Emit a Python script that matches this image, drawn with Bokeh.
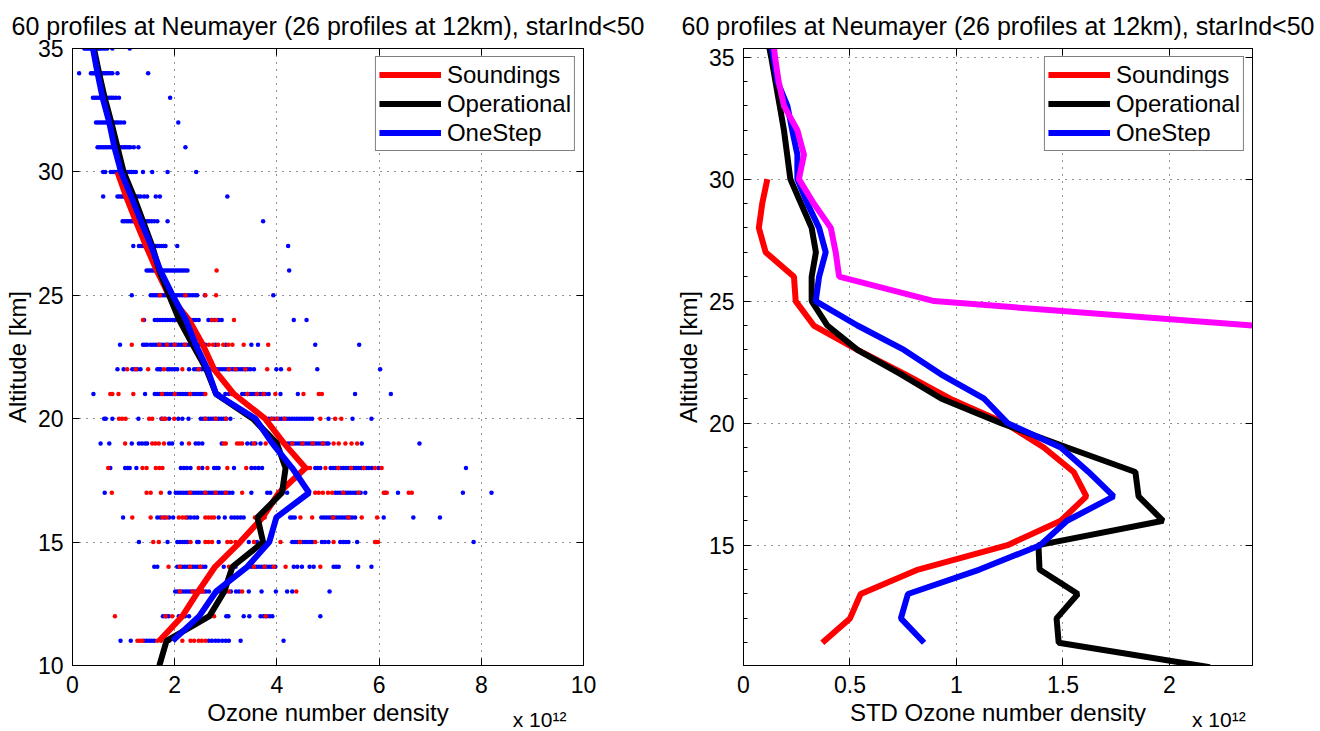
from bokeh.embed import file_html
from bokeh.layouts import row
from bokeh.models import CustomJSTickFormatter, FixedTicker, LinearAxis, Range1d
from bokeh.plotting import figure
from bokeh.resources import INLINE

FONT = "Liberation Sans"
TITLE = "60 profiles at Neumayer (26 profiles at 12km), starInd<50"
MULTIPLIER = "x 10\u00b9\u00b2"

RED, BLACK, BLUE, MAGENTA = "#ff0000", "#000000", "#0000ff", "#ff00ff"

# ---- mean ozone number density profiles (units of 1e12) ----
mean_alt_sondes = list(range(11, 31))
mean_sondes = [1.70, 2.15, 2.46, 2.79, 3.28, 3.72, 4.04, 4.56, 4.14, 3.77,
               3.16, 2.77, 2.55, 2.28, 1.89, 1.65, 1.44, 1.24, 1.05, 0.88]
mean_alt_oper = list(range(10, 36))
mean_oper = [1.70, 1.84, 2.68, 2.97, 3.13, 3.73, 3.62, 4.10, 4.17, 4.00,
             3.53, 2.81, 2.62, 2.35, 2.09, 1.89, 1.70, 1.56, 1.38, 1.20,
             1.00, 0.88, 0.76, 0.63, 0.52, 0.42]
mean_alt_onestep = list(range(11, 36))
mean_onestep = [1.96, 2.48, 2.81, 3.42, 3.85, 3.99, 4.63, 4.30, 3.91, 3.58,
                2.81, 2.64, 2.41, 2.22, 1.96, 1.72, 1.54, 1.34, 1.15, 0.95,
                0.82, 0.72, 0.59, 0.49, 0.40]

# ---- individual profile values per altitude level (units of 1e12) ----
dot_alts_onestep = list(range(11, 36))
dots_onestep = [
    [0.94, 1.14, 1.40, 1.45, 1.50, 1.55, 1.60, 1.89, 2.67, 2.73, 2.80, 2.86, 2.93, 3.00, 3.06, 3.29, 4.13],
    [1.77, 1.83, 1.88, 2.08, 2.14, 2.20, 2.28, 3.01, 3.05, 3.35, 3.46, 3.68, 3.74, 3.80, 3.86, 3.91, 4.85],
    [2.01, 2.06, 2.11, 2.16, 2.21, 2.26, 2.31, 2.36, 2.41, 2.46, 2.51, 2.56, 2.61, 2.67, 2.86, 2.92, 3.00,
     3.10, 3.20, 3.26, 3.45, 3.70, 3.98, 4.20, 4.30, 5.03],
    [1.60, 1.66, 2.05, 2.10, 2.15, 2.20, 2.25, 2.30, 2.35, 2.40, 2.45, 2.50, 2.55, 2.60, 2.96, 3.19, 3.45,
     3.50, 3.55, 3.60, 3.65, 3.70, 3.75, 3.80, 3.85, 3.90, 3.97, 4.33, 4.40, 4.49, 4.64, 4.72, 5.11, 5.16,
     5.21, 5.59, 5.85],
    [1.30, 1.86, 2.05, 2.10, 2.15, 2.20, 2.25, 2.44, 2.47, 2.86, 3.45, 3.61, 4.30, 4.35, 4.40, 4.45, 4.50,
     4.55, 4.60, 4.65, 4.69, 4.88, 4.94, 5.01, 5.24, 5.30, 5.35, 5.40, 5.57, 5.94, 7.85],
    [0.99, 1.66, 1.72, 1.80, 1.89, 1.97, 2.25, 2.31, 2.38, 2.44, 2.86, 2.98, 3.11, 3.17, 3.23, 3.29, 3.35,
     4.26, 4.30, 4.35, 4.87, 4.92, 4.97, 5.02, 5.07, 5.12, 5.17, 5.22, 5.27, 5.32, 5.37, 5.42, 5.47, 5.53,
     6.09, 6.67, 7.19],
    [0.63, 1.90, 2.02, 2.07, 2.12, 2.17, 2.22, 2.27, 2.32, 2.37, 2.42, 2.47, 2.52, 2.57, 2.62, 2.67, 2.72,
     2.77, 2.82, 2.87, 2.92, 2.97, 3.02, 3.07, 3.13, 3.50, 3.81, 3.87, 4.20, 5.14, 5.19, 5.24, 5.29, 5.34,
     5.39, 5.44, 5.49, 5.54, 5.59, 5.64, 5.73, 6.12, 6.37, 7.64, 8.20],
    [0.74, 1.03, 1.08, 1.12, 1.25, 2.12, 2.18, 2.24, 2.31, 2.54, 2.77, 2.82, 2.86, 3.16, 3.50, 3.57, 3.64,
     3.71, 4.59, 4.75, 4.80, 4.85, 5.05, 5.10, 5.15, 5.20, 5.25, 5.30, 5.35, 5.40, 5.45, 5.50, 5.55, 5.60,
     5.65, 5.70, 5.75, 5.80, 5.86, 5.99, 7.70],
    [0.55, 0.72, 1.16, 1.30, 1.36, 1.42, 1.46, 1.89, 1.95, 2.14, 2.41, 2.47, 2.54, 2.92, 3.42, 3.50, 3.58,
     3.68, 4.17, 4.22, 4.27, 4.32, 4.37, 4.42, 4.47, 4.52, 4.57, 4.62, 4.67, 4.72, 4.77, 4.82, 4.87, 4.92,
     4.97, 5.01, 5.66, 6.79],
    [0.62, 0.65, 0.78, 1.29, 1.74, 1.80, 1.89, 2.07, 2.15, 2.27, 2.51, 2.56, 2.61, 2.66, 2.71, 2.76, 2.81,
     2.86, 2.91, 2.96, 3.01, 3.09, 3.84, 3.89, 3.94, 3.99, 4.04, 4.09, 4.14, 4.19, 4.24, 4.29, 4.34, 4.39,
     4.44, 4.49, 4.54, 4.59, 4.64, 4.69, 5.01, 5.48, 5.85],
    [0.41, 1.42, 1.61, 1.66, 1.71, 1.76, 1.81, 1.86, 1.91, 1.96, 2.01, 2.06, 2.11, 2.16, 2.21, 2.26, 2.31,
     2.36, 2.41, 2.46, 2.51, 2.56, 2.86, 2.99, 3.06, 3.32, 3.37, 3.42, 3.47, 3.52, 3.57, 3.62, 3.67, 3.72,
     3.77, 3.84, 4.07, 4.41, 5.53, 6.23],
    [0.88, 1.00, 1.17, 1.22, 1.27, 1.33, 1.66, 1.70, 1.73, 1.86, 1.90, 1.95, 2.00, 2.05, 2.28, 2.38, 2.43,
     2.48, 2.53, 2.58, 2.63, 2.68, 2.73, 2.78, 2.83, 2.88, 2.93, 2.98, 3.03, 3.08, 3.13, 3.18, 3.23, 3.28,
     3.33, 3.38, 3.43, 3.48, 3.55, 3.99, 4.08, 4.79, 6.02],
    [0.93, 1.38, 1.42, 1.46, 1.53, 1.58, 1.63, 1.68, 1.73, 1.78, 1.83, 1.88, 1.93, 1.98, 2.03, 2.08, 2.13,
     2.18, 2.23, 2.28, 2.33, 2.38, 2.43, 2.48, 2.53, 2.60, 2.80, 3.00, 3.50, 3.63, 4.75, 5.61],
    [1.40, 1.61, 1.66, 1.71, 1.76, 1.81, 1.86, 1.91, 1.96, 2.01, 2.06, 2.11, 2.16, 2.21, 2.26, 2.31, 2.36,
     2.41, 2.47, 2.66, 2.72, 2.78, 2.86, 2.92, 4.33, 4.58],
    [1.16, 1.53, 1.57, 1.61, 1.65, 1.69, 1.73, 1.77, 1.81, 1.85, 1.89, 1.93, 1.97, 2.01, 2.05, 2.10, 2.15,
     2.20, 2.25, 2.30, 2.35, 2.40, 2.44, 2.59, 3.93],
    [1.45, 1.49, 1.53, 1.57, 1.61, 1.65, 1.69, 1.73, 1.77, 1.81, 1.85, 1.89, 1.93, 1.97, 2.01, 2.05, 2.09,
     2.13, 2.17, 2.21, 2.25, 4.24],
    [1.19, 1.30, 1.34, 1.38, 1.42, 1.46, 1.50, 1.54, 1.58, 1.62, 1.66, 1.70, 1.74, 1.78, 1.82, 2.05, 4.22],
    [0.98, 1.02, 1.06, 1.10, 1.14, 1.18, 1.22, 1.26, 1.30, 1.34, 1.38, 1.42, 1.46, 1.50, 1.55, 1.60, 1.66,
     1.86, 3.73],
    [0.60, 0.88, 0.92, 0.96, 1.00, 1.04, 1.08, 1.12, 1.16, 1.20, 1.24, 1.28, 1.33, 1.40, 1.46, 1.63, 1.71,
     3.03],
    [0.60, 0.64, 0.75, 0.79, 0.83, 0.87, 0.91, 0.95, 0.99, 1.03, 1.07, 1.11, 1.15, 1.19, 1.24, 1.38, 1.56,
     1.86, 2.42],
    [0.49, 0.53, 0.57, 0.61, 0.65, 0.69, 0.73, 0.77, 0.81, 0.85, 0.89, 0.93, 0.97, 1.01, 1.05, 1.09, 1.13,
     1.20, 1.29, 2.21],
    [0.46, 0.50, 0.54, 0.58, 0.62, 0.66, 0.70, 0.74, 0.78, 0.82, 0.86, 0.90, 0.95, 1.01, 2.07],
    [0.40, 0.44, 0.48, 0.52, 0.56, 0.60, 0.64, 0.68, 0.72, 0.76, 0.80, 0.85, 0.91, 1.91],
    [0.13, 0.36, 0.39, 0.42, 0.45, 0.48, 0.51, 0.54, 0.57, 0.60, 0.63, 0.66, 0.70, 0.74, 0.78, 0.88, 1.48],
    [0.23, 0.26, 0.29, 0.32, 0.35, 0.38, 0.41, 0.44, 0.47, 0.50, 0.53, 0.56, 0.60, 0.64, 0.68, 0.78, 1.12],
]
dot_alts_sondes = list(range(11, 27))
dots_sondes = [
    [1.27, 1.32, 1.37, 1.66, 1.73, 2.15, 2.31, 2.38, 2.47, 2.53, 2.60],
    [0.83, 1.82, 1.95, 2.77, 3.78],
    [2.10, 2.35, 2.55, 2.81, 3.06, 3.32, 4.38],
    [1.88, 2.10, 2.30, 2.50, 3.06, 3.55, 3.76, 3.94, 4.17, 4.85],
    [1.58, 1.69, 2.31, 2.60, 2.66, 2.73, 3.03, 3.10, 3.19, 3.55, 4.07, 4.45, 4.75, 5.11, 5.92, 5.98],
    [1.17, 1.53, 1.76, 1.84, 2.08, 2.15, 2.21, 2.60, 2.66, 2.72, 2.77, 3.57, 3.76, 4.46, 4.69, 5.10, 5.40,
     5.66, 5.96],
    [0.77, 1.45, 1.53, 1.73, 2.30, 2.60, 2.80, 3.00, 3.32, 4.04, 4.75, 4.82, 4.90, 5.00, 5.08, 5.30, 5.60,
     6.09, 6.15, 6.58, 6.64],
    [0.70, 1.37, 1.45, 1.63, 1.70, 1.76, 2.47, 2.64, 3.03, 3.40, 4.62, 4.65, 4.95, 5.20, 5.45, 5.70, 5.92,
     6.05],
    [1.03, 1.56, 1.62, 1.69, 1.79, 2.28, 2.96, 3.00, 3.22, 3.27, 3.32, 3.55, 3.78, 4.30, 4.50, 4.70, 4.90,
     5.11, 5.21, 5.34, 5.46, 5.57],
    [0.91, 0.97, 1.04, 1.50, 1.56, 1.76, 1.82, 1.99, 2.60, 2.80, 3.00, 3.90, 4.00, 4.15, 4.85, 5.14, 5.26],
    [0.74, 0.78, 0.90, 1.19, 1.75, 2.00, 2.30, 2.60, 3.11, 3.42, 3.61, 3.74, 3.97, 4.52, 4.82, 4.88],
    [1.07, 1.24, 1.48, 1.79, 2.15, 2.47, 3.06, 3.19, 3.38, 3.81, 4.24],
    [1.16, 1.70, 1.85, 2.00, 2.20, 2.40, 2.67, 2.75, 2.85, 2.95, 3.05, 3.13, 3.35, 3.83],
    [1.38, 2.73, 2.81, 3.16],
    [1.71, 2.21, 2.60, 2.81],
    [2.82],
]

# ---- standard deviation profiles (units of 1e12) ----
std_alt_sondes = list(range(11, 31))
std_sondes = [0.37, 0.50, 0.55, 0.82, 1.24, 1.49, 1.61, 1.55, 1.41, 1.23,
              0.97, 0.76, 0.535, 0.33, 0.245, 0.237, 0.104, 0.072, 0.088, 0.112]
std_alt_oper = list(range(10, 37))
std_oper = [2.19, 1.48, 1.47, 1.57, 1.39, 1.385, 1.97, 1.855, 1.84, 1.52,
            1.21, 0.93, 0.74, 0.535, 0.394, 0.32, 0.32, 0.34, 0.32, 0.27,
            0.22, 0.205, 0.19, 0.17, 0.15, 0.13, 0.107]
std_alt_onestep = list(range(11, 37))
std_onestep = [0.848, 0.739, 0.772, 1.108, 1.393, 1.519, 1.738, 1.62, 1.49, 1.24,
               1.13, 0.927, 0.754, 0.535, 0.339, 0.355, 0.386, 0.355, 0.30, 0.253,
               0.253, 0.229, 0.206, 0.159, 0.14, 0.12]
std_alt_upper = list(range(24, 37))
std_upper = [2.39, 0.895, 0.449, 0.433, 0.41, 0.33, 0.26, 0.284, 0.253, 0.19,
             0.165, 0.148, 0.135]

left_xticks = [0, 2, 4, 6, 8, 10]
left_yticks = [10, 15, 20, 25, 30, 35]
right_xticks = [0, 0.5, 1, 1.5, 2]
right_xlabels = ["0", "0.5", "1", "1.5", "2"]
right_yticks = [15, 20, 25, 30, 35]
right_yminor = [11, 12, 13, 14, 16, 17, 18, 19, 21, 22, 23, 24, 26, 27, 28, 29, 31, 32, 33, 34]


def style_axis(ax, show_labels=True, minor=False):
    ax.axis_line_color = "black"
    ax.axis_line_width = 1
    ax.major_tick_line_color = "black"
    ax.major_tick_in = 7
    ax.major_tick_out = 0
    ax.minor_tick_line_color = "black"
    ax.minor_tick_in = 4 if minor else 0
    ax.minor_tick_out = 0
    ax.major_label_text_font = FONT
    ax.major_label_text_color = "black"
    if show_labels:
        ax.major_label_text_font_size = "23px"
    else:
        # tick marks only: empty labels that take no room
        ax.formatter = CustomJSTickFormatter(code="return ''")
        ax.major_label_text_font_size = "1px"
        ax.major_label_standoff = 0
    ax.axis_label_text_font = FONT
    ax.axis_label_text_font_size = "24px"
    ax.axis_label_text_font_style = "normal"
    ax.axis_label_text_color = "black"


def make_panel(frame_w, xr, yr, xticks, yticks, yminor, border_l, border_r, xlabel):
    p = figure(frame_width=frame_w, frame_height=617,
               x_range=Range1d(*xr), y_range=Range1d(*yr),
               output_backend="svg", toolbar_location=None,
               min_border_left=border_l, min_border_right=border_r,
               min_border_top=48, min_border_bottom=66,
               title=TITLE)
    p.title.text_font = FONT
    p.title.text_font_size = "25px"
    p.title.text_font_style = "normal"
    p.title.text_color = "black"
    p.title.align = "center"
    p.title.text_line_height = 0.8
    p.title.standoff = 18
    p.outline_line_color = "black"
    p.background_fill_color = "white"
    p.border_fill_color = "white"

    bottom = p.below[0]
    left = p.left[0]
    bottom.ticker = FixedTicker(ticks=xticks, minor_ticks=[])
    left.ticker = FixedTicker(ticks=yticks, minor_ticks=yminor)
    bottom.axis_label = xlabel
    left.axis_label = "Altitude [km]"
    style_axis(bottom)
    style_axis(left, minor=bool(yminor))
    bottom.major_label_standoff = 10
    left.major_label_standoff = 9
    bottom.axis_label_standoff = 3
    left.axis_label_standoff = 4

    top = LinearAxis(ticker=FixedTicker(ticks=xticks, minor_ticks=[]))
    right = LinearAxis(ticker=FixedTicker(ticks=yticks, minor_ticks=[]))
    style_axis(top, show_labels=False)
    style_axis(right, show_labels=False)
    p.add_layout(top, "above")
    p.add_layout(right, "right")

    for g, t in ((p.xgrid, xticks), (p.ygrid, yticks)):
        g.ticker = FixedTicker(ticks=t, minor_ticks=[])
        g.grid_line_color = "#222222"
        g.grid_line_dash = "1 6"
        g.grid_line_width = 1
    return p, bottom


def add_multiplier(p, x_pos):
    # scale factor of the x axis, set in its own tick-less axis under the label
    ax = LinearAxis(ticker=FixedTicker(ticks=[x_pos], minor_ticks=[]),
                    major_label_overrides={x_pos: MULTIPLIER})
    ax.axis_line_color = None
    ax.major_tick_line_color = None
    ax.minor_tick_line_color = None
    ax.major_tick_in = 0
    ax.major_tick_out = 0
    ax.minor_tick_in = 0
    ax.minor_tick_out = 0
    ax.major_label_text_font = FONT
    ax.major_label_text_font_size = "21px"
    ax.major_label_text_color = "black"
    ax.major_label_standoff = -21
    p.add_layout(ax, "below")


def style_legend(p):
    leg = p.legend[0]
    leg.location = "top_right"
    leg.margin = 8
    leg.padding = 3
    leg.spacing = 0
    leg.glyph_width = 62
    leg.glyph_height = 29
    leg.label_height = 29
    leg.label_standoff = 6
    leg.label_text_font = FONT
    leg.label_text_font_size = "24px"
    leg.label_text_color = "black"
    leg.border_line_color = "black"
    leg.border_line_width = 1
    leg.background_fill_color = "white"
    leg.background_fill_alpha = 1


# ---------------- left panel: profiles ----------------
p1, p1_bottom = make_panel(511, (0, 10), (10, 35), left_xticks, left_yticks, [], 72, 82,
                           "Ozone number density")

blue_x, blue_y = [], []
for alt, vals in zip(dot_alts_onestep, dots_onestep):
    blue_x += vals
    blue_y += [alt] * len(vals)
red_x, red_y = [], []
for alt, vals in zip(dot_alts_sondes, dots_sondes):
    red_x += vals
    red_y += [alt] * len(vals)

p1.scatter(blue_x, blue_y, size=4.5, fill_color=BLUE, line_color=None)
p1.scatter(red_x, red_y, size=4.5, fill_color=RED, line_color=None)

p1.line(mean_sondes, mean_alt_sondes, line_color=RED, line_width=6, legend_label="Soundings")
p1.line(mean_oper, mean_alt_oper, line_color=BLACK, line_width=6, legend_label="Operational")
p1.line(mean_onestep, mean_alt_onestep, line_color=BLUE, line_width=6, legend_label="OneStep")
style_legend(p1)
add_multiplier(p1, 9.14)

# ---------------- right panel: standard deviations ----------------
p2, p2_bottom = make_panel(509, (0, 2.39), (10.07, 35.35), right_xticks, right_yticks,
                           right_yminor, 78, 68, "STD Ozone number density")
p2_bottom.major_label_overrides = {t: s for t, s in zip(right_xticks, right_xlabels)}

p2.line(std_sondes, std_alt_sondes, line_color=RED, line_width=6, legend_label="Soundings")
p2.line(std_oper, std_alt_oper, line_color=BLACK, line_width=6, legend_label="Operational")
p2.line(std_onestep, std_alt_onestep, line_color=BLUE, line_width=6, legend_label="OneStep")
p2.line(std_upper, std_alt_upper, line_color=MAGENTA, line_width=6)
style_legend(p2)
add_multiplier(p2, 2.232)

layout = row(p1, p2)
open("out.html", "w").write(file_html(layout, INLINE))
